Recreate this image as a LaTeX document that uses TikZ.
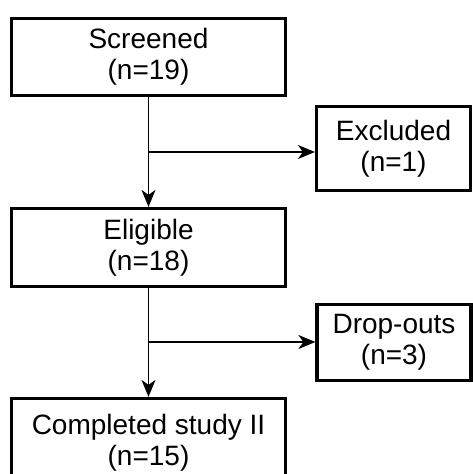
\documentclass[tikz,border=0pt]{standalone}
\usepackage{fontspec}
\setmainfont{Liberation Sans}
\usetikzlibrary{arrows.meta,positioning,calc}

\begin{document}
\begin{tikzpicture}[x=1pt,y=-1pt,>={Stealth[length=17pt,width=14pt,inset=5pt]},
  box/.style={draw,line width=3.2pt,align=center,inner sep=0pt,
    minimum width=274pt,font=\fontsize{28}{31}\selectfont},
  sidebox/.style={box,minimum width=154pt},
  flow/.style={line width=1.4pt}]
\useasboundingbox (0,0) rectangle (473,474);
\clip (0,0) rectangle (473,474);
% main column
\node[box,minimum height=77pt] (scr) at (148.5,57) {Screened\\(n=19)};
\node[box,minimum height=78pt] (elig) at (148.5,247.5) {Eligible\\(n=18)};
\node[box,minimum height=89pt] (done) at (148.5,443) {Completed study II\\(n=15)};
% side boxes
\node[sidebox,minimum height=84pt] (excl) at (393.5,148.5) {Excluded\\(n=1)};
\node[sidebox,minimum height=76pt] (drop) at (394,342.5) {Drop-outs\\(n=3)};
% arrows
\coordinate (b1) at (148.5,152);
\coordinate (b2) at (148.5,342);
\draw[flow,->] (scr) -- (elig);
\draw[flow,->] (elig) -- (done);
\draw[flow,->] (b1) -- (excl.west |- b1);
\draw[flow,->] (b2) -- (drop.west |- b2);
\end{tikzpicture}
\end{document}
